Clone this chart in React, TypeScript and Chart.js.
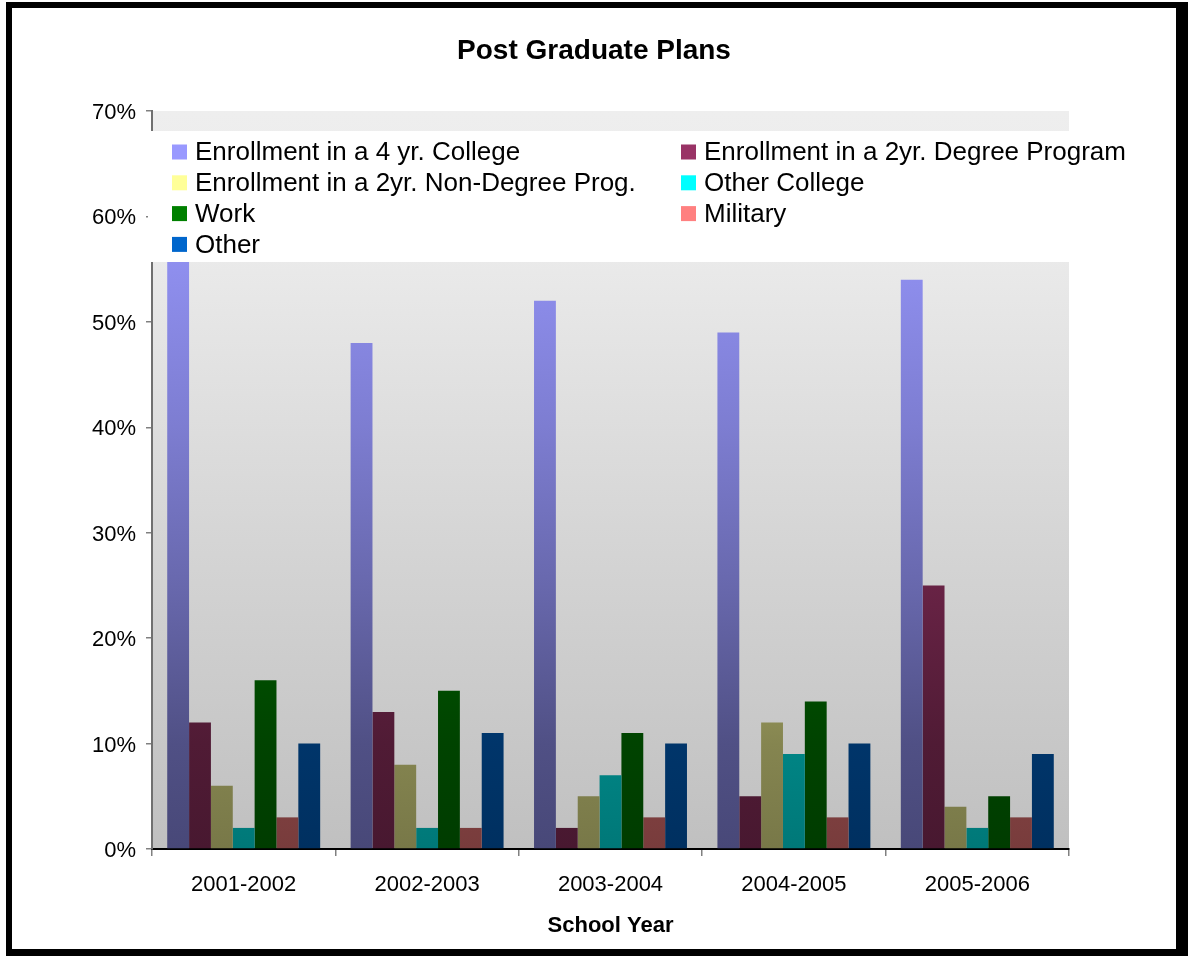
import React, { useEffect, useRef } from "react";
import { Chart, registerables } from "chart.js";

Chart.register(...registerables);

const categories = ["2001-2002", "2002-2003", "2003-2004", "2004-2005", "2005-2006"];
const seriesNames = [
  "Enrollment in a 4 yr. College",
  "Enrollment in a 2yr. Degree Program",
  "Enrollment in a 2yr. Non-Degree Prog.",
  "Other College",
  "Work",
  "Military",
  "Other",
];
const fourYearCollege = [56, 48, 52, 49, 54];
const twoYearDegree = [12, 13, 2, 5, 25];
const twoYearNonDegree = [6, 8, 5, 12, 4];
const otherCollege = [2, 2, 7, 9, 2];
const work = [16, 15, 11, 14, 5];
const military = [3, 2, 3, 3, 3];
const other = [10, 11, 10, 10, 9];
const seriesValues = [fourYearCollege, twoYearDegree, twoYearNonDegree, otherCollege, work, military, other];
const seriesColors = ["#9999FF", "#993366", "#FFFF99", "#00FFFF", "#008000", "#FF8080", "#0066CC"];
const yTickLabels = ["0%", "10%", "20%", "30%", "40%", "50%", "60%", "70%"];

const FONT = '"Liberation Sans", Arial, Helvetica, sans-serif';

function shade(hex: string, f: number): string {
  const n = parseInt(hex.slice(1), 16);
  const r = Math.round(((n >> 16) & 255) * f);
  const g = Math.round(((n >> 8) & 255) * f);
  const b = Math.round((n & 255) * f);
  return `rgb(${r},${g},${b})`;
}

// shading stops (value in %, brightness factor)
const shadeStops: [number, number][] = [
  [0, 0.47],
  [10, 0.52],
  [25, 0.68],
  [40, 0.82],
  [60, 0.97],
];

function barFill(color: string) {
  return (ctx: any) => {
    const chart = ctx.chart;
    const y = chart.scales && chart.scales.y;
    if (!chart.chartArea || !y) return color;
    const y0 = y.getPixelForValue(0);
    const yTop = y.getPixelForValue(60);
    const g = chart.ctx.createLinearGradient(0, y0, 0, yTop);
    shadeStops.forEach(([v, f]) => g.addColorStop(v / 60, shade(color, f)));
    return g;
  };
}

const plotBackground = {
  id: "plotBackground",
  beforeDraw(chart: any) {
    const { ctx, chartArea } = chart;
    if (!chartArea) return;
    const g = ctx.createLinearGradient(0, chartArea.top, 0, chartArea.bottom);
    g.addColorStop(0, "#eeeeee");
    g.addColorStop(0.2, "#eaeaea");
    g.addColorStop(0.6, "#d4d4d4");
    g.addColorStop(1, "#c0c0c0");
    ctx.save();
    ctx.fillStyle = g;
    ctx.fillRect(chartArea.left, chartArea.top, chartArea.right - chartArea.left, chartArea.bottom - chartArea.top);
    ctx.restore();
  },
};

const overlayLegend = {
  id: "overlayLegend",
  afterDatasetsDraw(chart: any) {
    const { ctx, chartArea } = chart;
    if (!chartArea) return;
    const boxTop = chartArea.top + 20;
    const boxBottom = boxTop + 131;
    ctx.save();
    ctx.fillStyle = "#ffffff";
    ctx.fillRect(chartArea.left - 4, boxTop, 1176 - (chartArea.left - 4), boxBottom - boxTop);
    ctx.font = `26px ${FONT}`;
    ctx.textBaseline = "middle";
    ctx.textAlign = "left";
    chart.data.datasets.forEach((ds: any, i: number) => {
      const col = i % 2;
      const row = Math.floor(i / 2);
      const x = col === 0 ? chartArea.left + 20 : chartArea.left + 529;
      const yc = boxTop + 21 + row * 30.8;
      ctx.fillStyle = seriesColors[i];
      ctx.fillRect(x, yc - 7.5, 15, 15);
      ctx.fillStyle = "#000000";
      ctx.fillText(ds.label, x + 23, yc + 1);
    });
    ctx.restore();
  },
};

export default function App() {
  const canvasRef = useRef<HTMLCanvasElement | null>(null);

  useEffect(() => {
    if (!canvasRef.current) return;
    const chart = new Chart(canvasRef.current, {
      type: "bar",
      data: {
        labels: categories,
        datasets: seriesNames.map((name, i) => ({
          label: name,
          data: seriesValues[i],
          backgroundColor: barFill(seriesColors[i]),
          borderWidth: 0,
          categoryPercentage: 0.834,
          barPercentage: 1.0,
        })),
      },
      options: {
        animation: false,
        responsive: false,
        devicePixelRatio: 1,
        layout: { padding: { left: 0, right: 0, top: 0, bottom: 0 } },
        plugins: {
          legend: { display: false },
          tooltip: { enabled: false },
          title: {
            display: true,
            text: "Post Graduate Plans",
            color: "#000000",
            font: { family: FONT, size: 28, weight: "bold" },
            padding: { top: 34, bottom: 43.4 },
          },
        },
        scales: {
          x: {
            grid: {
              display: true,
              drawOnChartArea: false,
              drawTicks: true,
              tickLength: 7,
              color: "#808080",
              lineWidth: 1.5,
              offset: true,
            },
            border: { display: true, color: "#000000", width: 2 },
            ticks: {
              color: "#000000",
              font: { family: FONT, size: 22 },
              padding: 16,
              maxRotation: 0,
            },
            title: {
              display: true,
              text: "School Year",
              color: "#000000",
              font: { family: FONT, size: 22, weight: "bold" },
              padding: { top: 0, bottom: 17 },
            },
            afterFit: (scale: any) => {
              scale.height = 107;
            },
          },
          y: {
            min: 0,
            max: 70,
            grid: {
              display: true,
              drawOnChartArea: false,
              drawTicks: true,
              tickLength: 6,
              color: "#808080",
              lineWidth: 1.5,
            },
            border: { display: true, color: "#707070", width: 2 },
            ticks: {
              stepSize: 10,
              color: "#000000",
              font: { family: FONT, size: 22 },
              padding: 10,
              labelOffset: 2,
              callback: (_v: any, i: number) => yTickLabels[i],
            },
            afterFit: (scale: any) => {
              scale.width = 152;
            },
          },
          rightSpace: {
            type: "linear",
            position: "right",
            display: true,
            grid: { display: false, drawTicks: false },
            border: { display: false },
            ticks: { display: false },
            afterFit: (scale: any) => {
              scale.width = 119;
            },
          },
        },
      },
      plugins: [plotBackground, overlayLegend],
    });
    return () => chart.destroy();
  }, []);

  return (
    <div style={{ position: "absolute", left: 0, top: 0, width: 1188, height: 956, background: "#ffffff" }}>
      <div style={{ position: "absolute", left: 6, top: 2, width: 1182, height: 954, background: "#000000" }} />
      <div style={{ position: "absolute", left: 12, top: 8, width: 1164, height: 941, background: "#ffffff" }} />
      <canvas
        ref={canvasRef}
        width={1188}
        height={956}
        style={{ position: "absolute", left: 0, top: 0, width: 1188, height: 956, display: "block" }}
      />
    </div>
  );
}
